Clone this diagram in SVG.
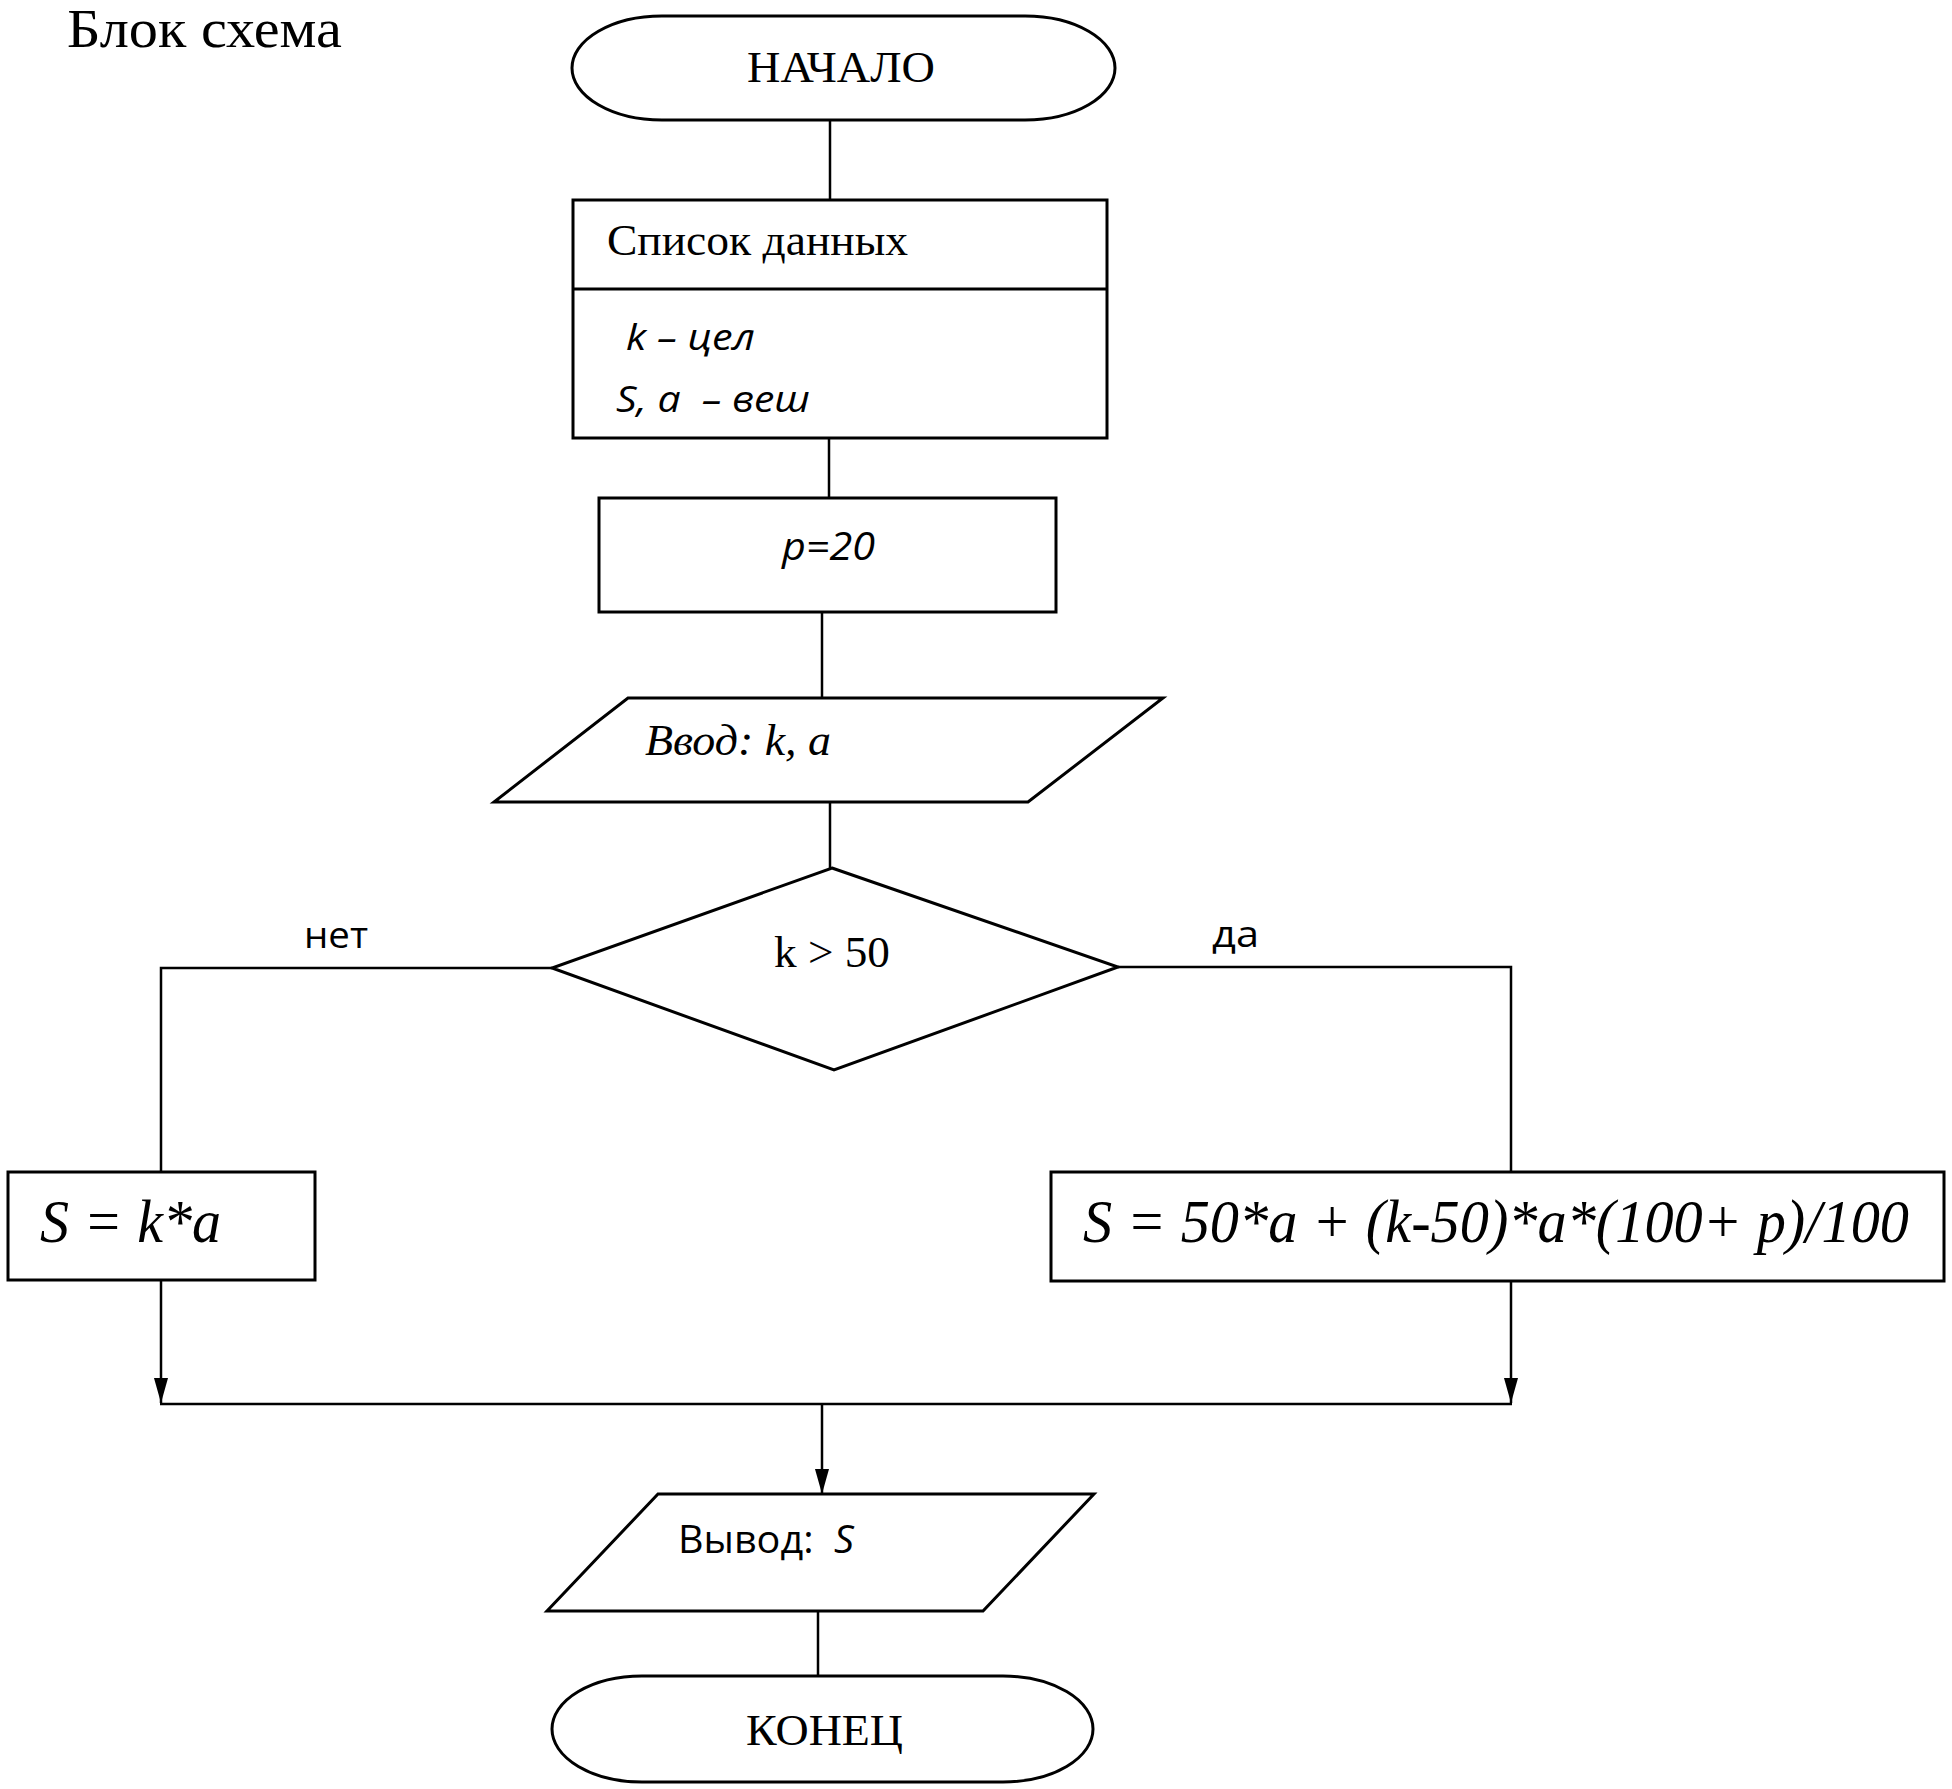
<svg xmlns="http://www.w3.org/2000/svg" width="1952" height="1789" viewBox="0 0 1952 1789">
<style>
.shape{fill:#fff;stroke:#000;stroke-width:3}
.conn{fill:none;stroke:#000;stroke-width:2.5}
.serif{font-family:"Liberation Serif","Times New Roman",serif;fill:#000}
.sans{font-family:"Open Sans","Noto Sans","DejaVu Sans",sans-serif;fill:#000}
.it{font-style:italic}
</style>
<defs>
<marker id="arr" markerUnits="userSpaceOnUse" markerWidth="26" markerHeight="16" refX="25" refY="7" orient="auto">
<path d="M0,0 L25,7 L0,14 z" fill="#000"/>
</marker>
</defs>
<rect width="1952" height="1789" fill="#fff"/>
<text class="serif" x="67" y="47" font-size="54" textLength="275" lengthAdjust="spacingAndGlyphs">Блок схема</text>

<g id="connectors">
<line class="conn" x1="830" y1="120" x2="830" y2="200"/>
<line class="conn" x1="829" y1="438" x2="829" y2="498"/>
<line class="conn" x1="822" y1="612" x2="822" y2="698"/>
<line class="conn" x1="830" y1="802" x2="830" y2="868"/>
<polyline class="conn" points="552,968 161,968 161,1172"/>
<polyline class="conn" points="1118,967 1511,967 1511,1172"/>
<line class="conn" x1="161" y1="1280" x2="161" y2="1403" marker-end="url(#arr)"/>
<line class="conn" x1="1511" y1="1281" x2="1511" y2="1403" marker-end="url(#arr)"/>
<line class="conn" x1="160" y1="1404" x2="1512" y2="1404" stroke-width="4"/>
<line class="conn" x1="822" y1="1404" x2="822" y2="1494" marker-end="url(#arr)"/>
<line class="conn" x1="818" y1="1611" x2="818" y2="1676"/>
<text class="sans" x="304" y="948" font-size="36" textLength="64" lengthAdjust="spacingAndGlyphs">нет</text>
<text class="sans" x="1212" y="947" font-size="36" textLength="47" lengthAdjust="spacingAndGlyphs">да</text>
</g>

<g id="start">
<rect class="shape" x="572" y="16" width="543" height="104" rx="90" ry="52"/>
<text class="serif" x="747" y="82" font-size="45" textLength="188" lengthAdjust="spacingAndGlyphs">НАЧАЛО</text>
</g>

<g id="data">
<rect class="shape" x="573" y="200" width="534" height="238"/>
<line class="shape" x1="573" y1="289" x2="1107" y2="289"/>
<text class="serif" x="607" y="255" font-size="45" textLength="301" lengthAdjust="spacingAndGlyphs">Список данных</text>
<text class="sans it" x="626" y="350" font-size="36" textLength="129" lengthAdjust="spacingAndGlyphs">k – цел</text>
<text class="sans it" x="616" y="412" font-size="36" textLength="194" lengthAdjust="spacingAndGlyphs" xml:space="preserve">S, a  – веш</text>
</g>

<g id="assign-p">
<rect class="shape" x="599" y="498" width="457" height="114"/>
<text class="sans it" x="782" y="560" font-size="38" textLength="93" lengthAdjust="spacingAndGlyphs">p=20</text>
</g>

<g id="input">
<polygon class="shape" points="628,698 1163,698 1028,802 494,802"/>
<text class="serif it" x="645" y="755" font-size="45" textLength="186" lengthAdjust="spacingAndGlyphs">Ввод: k, a</text>
</g>

<g id="decision">
<polygon class="shape" points="832,868 1118,967 834,1070 552,968"/>
<text class="serif" x="774" y="967" font-size="45" textLength="116" lengthAdjust="spacingAndGlyphs">k &gt; 50</text>
</g>

<g id="calc-no">
<rect class="shape" x="8" y="1172" width="307" height="108"/>
<text class="serif it" x="40" y="1242" font-size="62" textLength="181" lengthAdjust="spacingAndGlyphs">S = k*a</text>
</g>

<g id="calc-yes">
<rect class="shape" x="1051" y="1172" width="893" height="109"/>
<text class="serif it" x="1083" y="1242" font-size="62" textLength="826" lengthAdjust="spacingAndGlyphs">S = 50*a + (k-50)*a*(100+ p)/100</text>
</g>

<g id="output">
<polygon class="shape" points="658,1494 1094,1494 983,1611 547,1611"/>
<text class="sans" x="678" y="1553" font-size="38" textLength="176" lengthAdjust="spacingAndGlyphs" xml:space="preserve">Вывод:  <tspan font-style="italic">S</tspan></text>
</g>

<g id="end">
<rect class="shape" x="552" y="1676" width="541" height="106" rx="90" ry="53"/>
<text class="serif" x="746" y="1745" font-size="45" textLength="157" lengthAdjust="spacingAndGlyphs">КОНЕЦ</text>
</g>
</svg>
